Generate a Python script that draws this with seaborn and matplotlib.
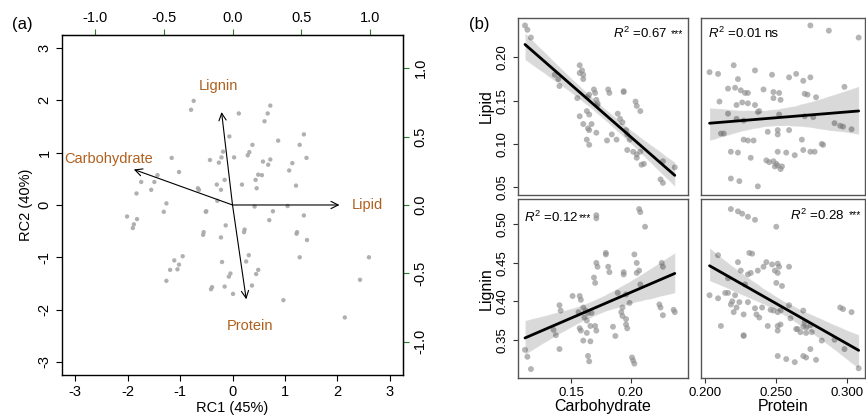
import numpy as np
import pandas as pd
import matplotlib
matplotlib.use('Agg')
import matplotlib.pyplot as plt
import seaborn as sns

# ---- (a) PCA biplot: sample scores ----
rc1 = [-0.74, -0.79, 0.12, 0.72, 0.67, 0.61, -0.06, 0.87, 1.36, 1.28, 1.41, 0.38,
       0.32, 0.29, -0.18, -0.21, -0.43, -0.26, 0.03, -1.16, 0.58, 0.72, 0.68, 1.14,
       1.08, -1.02, -1.43, -1.74, -1.49, -1.83, -1.55, 0.49, 0.56, 0.44, -0.15, -0.30,
       -0.22, 0.18, 0.46, 1.21, -0.66, -0.64, -0.29, -1.26, -1.31, -0.51, -0.50, 0.42,
       1.05, 0.77, 1.36, 0.70, -2.01, -1.82, -1.88, -1.90, -0.13, -0.55, -0.56, -0.22,
       0.23, 0.22, 1.23, 1.22, 1.42, 0.31, 0.26, -0.20, -0.95, -1.11, -1.02, -1.05,
       -1.19, -1.26, 1.28, 2.60, 0.49, 0.45, -0.04, -0.07, -0.39, -0.41, -0.15, 0.37,
       0.01, 0.97, 2.43, 2.14]
rc2 = [1.99, 1.82, 1.75, 1.90, 1.75, 1.60, 1.31, 1.23, 1.35, 1.15, 0.90, 1.15,
       1.01, 0.95, 1.02, 0.91, 0.86, 0.81, 0.91, 0.90, 0.83, 0.87, 0.77, 0.80,
       0.66, 0.63, 0.57, 0.44, 0.44, 0.22, 0.29, 0.58, 0.57, 0.48, 0.48, 0.39,
       0.29, 0.39, 0.32, 0.37, 0.32, 0.29, 0.08, 0.03, -0.13, -0.13, -0.12, -0.03,
       -0.02, -0.12, -0.20, -0.29, -0.22, -0.27, -0.37, -0.44, -0.39, -0.52, -0.57, -0.62,
       -0.47, -0.52, -0.52, -0.55, -0.67, -0.96, -1.08, -1.09, -0.98, -1.06, -1.14, -1.23,
       -1.24, -1.45, -1.00, -1.00, -1.24, -1.32, -1.31, -1.37, -1.57, -1.61, -1.56, -1.54,
       -1.70, -1.82, -1.43, -2.15]

# loadings on the top/right (loading) scale
var_names = ['Lipid', 'Lignin', 'Carbohydrate', 'Protein']
load_rc1 = [0.78, -0.08, -0.72, 0.10]
load_rc2 = [0.00, 0.68, 0.26, -0.69]
load_scale = 2.613  # score units per loading unit

# ---- (b) pairwise regressions ----
carb_lip = [0.111, 0.113, 0.116, 0.157, 0.159, 0.157, 0.160, 0.160, 0.136, 0.139, 0.140,
            0.169, 0.170, 0.165, 0.164, 0.155, 0.171, 0.172, 0.172, 0.181, 0.182, 0.194,
            0.194, 0.204, 0.205, 0.208, 0.163, 0.165, 0.157, 0.189, 0.191, 0.193, 0.160,
            0.167, 0.164, 0.165, 0.171, 0.184, 0.196, 0.197, 0.199, 0.163, 0.165, 0.180,
            0.188, 0.197, 0.202, 0.205, 0.208, 0.205, 0.209, 0.211, 0.227, 0.237, 0.225,
            0.227]
lipid_carb = [0.237, 0.232, 0.223, 0.191, 0.185, 0.182, 0.180, 0.175, 0.180, 0.175, 0.167,
              0.163, 0.159, 0.157, 0.155, 0.153, 0.151, 0.147, 0.145, 0.163, 0.159, 0.161,
              0.160, 0.149, 0.144, 0.138, 0.138, 0.134, 0.132, 0.135, 0.129, 0.125, 0.123,
              0.123, 0.118, 0.116, 0.113, 0.111, 0.116, 0.111, 0.105, 0.105, 0.099, 0.104,
              0.105, 0.093, 0.091, 0.088, 0.091, 0.084, 0.076, 0.077, 0.080, 0.073, 0.059,
              0.055]

prot_lip = [0.274, 0.287, 0.308, 0.203, 0.209, 0.220, 0.235, 0.223, 0.247, 0.259, 0.264,
            0.269, 0.274, 0.298, 0.216, 0.221, 0.225, 0.230, 0.228, 0.241, 0.248, 0.252,
            0.248, 0.253, 0.270, 0.272, 0.278, 0.210, 0.222, 0.226, 0.230, 0.235, 0.238,
            0.237, 0.216, 0.222, 0.227, 0.252, 0.270, 0.276, 0.211, 0.213, 0.244, 0.251,
            0.251, 0.259, 0.291, 0.295, 0.297, 0.303, 0.227, 0.230, 0.234, 0.268, 0.282,
            0.283, 0.218, 0.223, 0.232, 0.251, 0.257, 0.263, 0.269, 0.274, 0.277, 0.243,
            0.245, 0.248, 0.250, 0.251, 0.249, 0.254, 0.253, 0.218, 0.224, 0.237]
lipid_prot = [0.237, 0.231, 0.223, 0.183, 0.181, 0.191, 0.185, 0.175, 0.180, 0.177, 0.181,
              0.173, 0.177, 0.166, 0.164, 0.165, 0.162, 0.159, 0.159, 0.163, 0.160, 0.159,
              0.153, 0.151, 0.158, 0.157, 0.154, 0.149, 0.145, 0.148, 0.147, 0.145, 0.138,
              0.137, 0.135, 0.129, 0.127, 0.134, 0.132, 0.131, 0.112, 0.112, 0.114, 0.116,
              0.111, 0.116, 0.124, 0.121, 0.120, 0.117, 0.105, 0.104, 0.104, 0.105, 0.100,
              0.099, 0.091, 0.090, 0.084, 0.091, 0.090, 0.087, 0.093, 0.091, 0.091, 0.081,
              0.079, 0.080, 0.077, 0.075, 0.074, 0.074, 0.071, 0.060, 0.057, 0.051]

carb_lig = [0.207, 0.208, 0.212, 0.171, 0.171, 0.179, 0.179, 0.203, 0.205, 0.207, 0.205,
            0.208, 0.226, 0.227, 0.171, 0.172, 0.169, 0.170, 0.181, 0.182, 0.194, 0.194,
            0.151, 0.157, 0.158, 0.189, 0.196, 0.199, 0.140, 0.141, 0.156, 0.160, 0.162,
            0.164, 0.167, 0.161, 0.163, 0.193, 0.192, 0.193, 0.196, 0.196, 0.197, 0.224,
            0.225, 0.227, 0.236, 0.237, 0.135, 0.137, 0.157, 0.158, 0.163, 0.166, 0.171,
            0.170, 0.185, 0.187, 0.160, 0.166, 0.140, 0.111, 0.113, 0.116, 0.164, 0.165,
            0.201, 0.202, 0.203]
lignin_carb = [0.520, 0.516, 0.497, 0.512, 0.508, 0.463, 0.461, 0.461, 0.450, 0.440, 0.437,
               0.422, 0.450, 0.445, 0.450, 0.445, 0.431, 0.424, 0.445, 0.438, 0.438, 0.435,
               0.407, 0.407, 0.402, 0.411, 0.409, 0.398, 0.395, 0.388, 0.386, 0.392, 0.388,
               0.385, 0.385, 0.379, 0.375, 0.392, 0.386, 0.381, 0.377, 0.370, 0.365, 0.396,
               0.392, 0.382, 0.389, 0.386, 0.363, 0.356, 0.365, 0.362, 0.359, 0.368, 0.362,
               0.368, 0.367, 0.355, 0.349, 0.348, 0.338, 0.337, 0.328, 0.312, 0.329, 0.322,
               0.327, 0.323, 0.319]

prot_lig = [0.218, 0.223, 0.226, 0.230, 0.235, 0.250, 0.231, 0.233, 0.209, 0.223, 0.225,
            0.230, 0.232, 0.237, 0.241, 0.243, 0.247, 0.251, 0.252, 0.249, 0.251, 0.259,
            0.250, 0.254, 0.216, 0.228, 0.203, 0.209, 0.214, 0.216, 0.221, 0.219, 0.218,
            0.224, 0.230, 0.222, 0.220, 0.227, 0.235, 0.240, 0.236, 0.238, 0.246, 0.248,
            0.251, 0.253, 0.259, 0.260, 0.269, 0.270, 0.269, 0.265, 0.271, 0.274, 0.244,
            0.251, 0.253, 0.251, 0.264, 0.267, 0.271, 0.275, 0.211, 0.227, 0.227, 0.282,
            0.291, 0.298, 0.295, 0.297, 0.303, 0.274, 0.251, 0.257, 0.263, 0.269, 0.271,
            0.278, 0.308]
lignin_prot = [0.520, 0.517, 0.514, 0.510, 0.506, 0.497, 0.463, 0.462, 0.460, 0.451, 0.440,
               0.435, 0.437, 0.440, 0.445, 0.451, 0.448, 0.449, 0.445, 0.440, 0.437, 0.445,
               0.424, 0.420, 0.430, 0.422, 0.408, 0.404, 0.411, 0.411, 0.408, 0.400, 0.396,
               0.399, 0.399, 0.392, 0.386, 0.383, 0.391, 0.392, 0.383, 0.379, 0.389, 0.388,
               0.386, 0.388, 0.395, 0.378, 0.388, 0.373, 0.367, 0.364, 0.366, 0.369, 0.368,
               0.368, 0.370, 0.362, 0.364, 0.360, 0.359, 0.360, 0.368, 0.356, 0.355, 0.349,
               0.350, 0.338, 0.392, 0.390, 0.386, 0.338, 0.329, 0.325, 0.321, 0.329, 0.327,
               0.324, 0.313]

r2_text = ['0.67', '0.01', '0.12', '0.28']
r2_sig = ['***', 'ns', '***', '***']

sns.set_style('ticks')
plt.rcParams['font.family'] = ['Liberation Sans', 'DejaVu Sans']
plt.rcParams['axes.unicode_minus'] = False
plt.rcParams['mathtext.fontset'] = 'custom'
plt.rcParams['mathtext.rm'] = 'Liberation Sans'
plt.rcParams['mathtext.it'] = 'Liberation Sans:italic'
plt.rcParams['mathtext.bf'] = 'Liberation Sans:bold'
# R-like black text everywhere
for key in ('text.color', 'axes.labelcolor', 'xtick.color', 'ytick.color',
            'xtick.labelcolor', 'ytick.labelcolor'):
    plt.rcParams[key] = 'black'

green = '#2a7d2a'
brown = '#b0601e'

fig = plt.figure(figsize=(8.66, 4.16), dpi=100)

# ---------------- (a) ----------------
ax = fig.add_axes([0.0716, 0.0986, 0.3938, 0.8173])
sns.scatterplot(x=rc1, y=rc2, ax=ax, color='#a8a8a8', s=10, edgecolor='none', alpha=0.9)
ax.set_xlim(-3.25, 3.25)
ax.set_ylim(-3.25, 3.25)
ax.set_xticks(range(-3, 4))
ax.set_yticks(range(-3, 4))
ax.tick_params(labelsize=10.5, length=4, width=0.8, direction='out')
for t in ax.get_yticklabels():
    t.set_rotation(90)
    t.set_va('center')
for s in ax.spines.values():
    s.set_color('black')
    s.set_linewidth(1.0)
ax.set_xlabel('RC1 (45%)', fontsize=10.5, labelpad=1)
ax.set_ylabel('RC2 (40%)', fontsize=10.5, labelpad=3)

for name, lx, ly in zip(var_names, load_rc1, load_rc2):
    tx, ty = lx * load_scale, ly * load_scale
    ax.annotate('', xy=(tx, ty), xytext=(0, 0),
                arrowprops=dict(arrowstyle='->', color='black', lw=0.8,
                                mutation_scale=13, shrinkA=0, shrinkB=0))
    ax.text(tx * 1.26, ty * 1.28, name, color=brown, fontsize=10.5,
            ha='center', va='center')

top = ax.secondary_xaxis('top', functions=(lambda v: v / load_scale, lambda v: v * load_scale))
top.set_xticks([-1.0, -0.5, 0.0, 0.5, 1.0])
top.set_xticklabels(['-1.0', '-0.5', '0.0', '0.5', '1.0'])
top.tick_params(color=green, labelcolor='black', labelsize=10.5, length=4, width=0.8)
top.spines['top'].set_color('black')

right = ax.secondary_yaxis('right', functions=(lambda v: v / load_scale, lambda v: v * load_scale))
right.set_yticks([-1.0, -0.5, 0.0, 0.5, 1.0])
right.set_yticklabels(['-1.0', '-0.5', '0.0', '0.5', '1.0'], rotation=90, va='center')
right.tick_params(color=green, labelcolor='black', labelsize=10.5, length=4, width=0.8)
right.spines['right'].set_color('black')

fig.text(0.026, 0.94, '(a)', fontsize=12, ha='center', va='center')

# ---------------- (b) ----------------
panels = [
    ([0.598, 0.5313, 0.1963, 0.4262], carb_lip, lipid_carb, (0.105, 0.248), (0.041, 0.246)),
    ([0.8095, 0.5313, 0.1894, 0.4262], prot_lip, lipid_prot, (0.197, 0.3125), (0.041, 0.246)),
    ([0.598, 0.0925, 0.1963, 0.429], carb_lig, lignin_carb, (0.105, 0.248), (0.301, 0.533)),
    ([0.8095, 0.0925, 0.1894, 0.429], prot_lig, lignin_prot, (0.197, 0.3125), (0.301, 0.533)),
]
r2_pos = [(0.975, 0.91, 'right'), (0.04, 0.91, 'left'), (0.035, 0.895, 'left'), (0.975, 0.91, 'right')]

axes_b = []
for i, (pos, xv, yv, xl, yl) in enumerate(panels):
    a = fig.add_axes(pos)
    sns.regplot(x=xv, y=yv, ax=a, ci=95, seed=3, color='black',
                scatter_kws=dict(color='#8c8c8c', alpha=0.65, s=18, edgecolor='none'),
                line_kws=dict(color='black', lw=2))
    a.set_xlim(*xl)
    a.set_ylim(*yl)
    for s in a.spines.values():
        s.set_color('#555555')
        s.set_linewidth(1.0)
    a.tick_params(labelsize=9.5, length=3.5, width=0.8, color='#333333')
    axes_b.append(a)

    x, y, ha = r2_pos[i]
    if ha == 'left':
        t1 = a.text(x, y, r'$R^2$ =' + r2_text[i], transform=a.transAxes,
                    ha='left', va='center', fontsize=9.5)
        if r2_sig[i] == 'ns':
            a.annotate('ns', xy=(1, 0.5), xycoords=t1, xytext=(1.5, 0),
                       textcoords='offset points', ha='left', va='center', fontsize=9.5)
        else:
            a.annotate(r2_sig[i], xy=(1, 0.5), xycoords=t1, xytext=(0.5, 0),
                       textcoords='offset points', ha='left', va='center', fontsize=7.5)
    else:
        t1 = a.text(x, y, r2_sig[i], transform=a.transAxes,
                    ha='right', va='center', fontsize=7.5)
        a.annotate(r'$R^2$ =' + r2_text[i], xy=(0, 0.5), xycoords=t1, xytext=(-2.5, 0),
                   textcoords='offset points', ha='right', va='center', fontsize=9.5)

ax1, ax2, ax3, ax4 = axes_b
ax1.set_yticks([0.05, 0.10, 0.15, 0.20])
ax1.set_yticklabels(['0.05', '0.10', '0.15', '0.20'])
ax3.set_yticks([0.35, 0.40, 0.45, 0.50])
ax3.set_yticklabels(['0.35', '0.40', '0.45', '0.50'])
ax3.set_xticks([0.15, 0.20])
ax3.set_xticklabels(['0.15', '0.20'])
ax4.set_xticks([0.20, 0.25, 0.30])
ax4.set_xticklabels(['0.200', '0.250', '0.300'])
for a in (ax1, ax3):
    for t in a.get_yticklabels():
        t.set_rotation(90)
        t.set_va('center')
ax1.set_xticks([])
ax2.set_xticks([])
ax2.set_yticks([])
ax4.set_yticks([])

ax1.set_ylabel('Lipid', fontsize=11.5, labelpad=2)
ax3.set_ylabel('Lignin', fontsize=11.5, labelpad=2)
ax3.set_xlabel('Carbohydrate', fontsize=11.5, labelpad=0)
ax4.set_xlabel('Protein', fontsize=11.5, labelpad=0)
ax1.set_xlabel('')
ax2.set_xlabel('')
ax2.set_ylabel('')
ax4.set_ylabel('')

fig.text(0.553, 0.94, '(b)', fontsize=12, ha='center', va='center')

fig.savefig('out.png', dpi=100)
